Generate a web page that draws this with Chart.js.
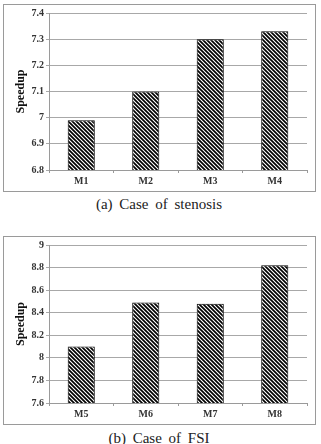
<!DOCTYPE html>
<html>
<head>
<meta charset="utf-8">
<script src="https://cdn.jsdelivr.net/npm/chart.js@4.4.0/dist/chart.umd.min.js"></script>
<style>
  body { margin: 0; background: #fff; width: 321px; height: 444px; overflow: hidden; position: relative; }
  .frame { position: absolute; left: 3px; width: 311px; border: 1px solid #9a9a9a; }
  .frame canvas { display: block; }
  .cap { position: absolute; left: 0; width: 318px; text-align: center; font-family: "Liberation Serif", serif; font-size: 15px; word-spacing: 3px; color: #222; }
</style>
</head>
<body>
<div class="frame" style="top:4px;height:186px"><canvas id="chartA" width="311" height="186"></canvas></div>
<div class="cap" style="top:196px">(a) Case of stenosis</div>
<div class="frame" style="top:236px;height:187px"><canvas id="chartB" width="311" height="187"></canvas></div>
<div class="cap" style="top:430px">(b) Case of FSI</div>
<script>
// stenosis case
const labelsA = ["M1", "M2", "M3", "M4"];
const speedupA = [6.99, 7.1, 7.3, 7.33];
const ticksA = [6.8, 6.9, 7, 7.1, 7.2, 7.3, 7.4];

// FSI case
const labelsB = ["M5", "M6", "M7", "M8"];
const speedupB = [8.1, 8.49, 8.48, 8.82];
const ticksB = [7.6, 7.8, 8, 8.2, 8.4, 8.6, 8.8, 9];

// hatch pattern, lines going top-left to bottom-right
function makeHatch() {
  const c = document.createElement("canvas");
  c.width = 4; c.height = 4;
  const g = c.getContext("2d");
  g.fillStyle = "#fff";
  g.fillRect(0, 0, 4, 4);
  g.strokeStyle = "#000";
  g.lineWidth = 1.7;
  g.beginPath();
  g.moveTo(-1, -1); g.lineTo(5, 5);
  g.moveTo(-1, 3); g.lineTo(1, 5);
  g.moveTo(3, -1); g.lineTo(5, 1);
  g.stroke();
  return g.createPattern(c, "repeat");
}

const serif = "'Liberation Serif', 'Times New Roman', serif";

function drawChart(id, labels, values, ticks, padTop) {
  const ctx = document.getElementById(id).getContext("2d");
  return new Chart(ctx, {
    type: "bar",
    data: {
      labels: labels,
      datasets: [{
        data: values,
        backgroundColor: makeHatch(),
        borderColor: "#000",
        borderWidth: 1,
        borderSkipped: "bottom",
        barPercentage: 0.42,
        categoryPercentage: 1
      }]
    },
    options: {
      responsive: false,
      animation: false,
      layout: { padding: { top: padTop, right: 8, bottom: 0, left: 0 } },
      plugins: { legend: { display: false }, tooltip: { enabled: false } },
      scales: {
        x: {
          afterFit: (s) => { s.height = 21; },
          grid: { offset: true, drawOnChartArea: false, drawTicks: true, tickLength: 3, color: "#9a9a9a" },
          border: { color: "#9a9a9a" },
          ticks: { color: "#333", padding: 2, font: { family: serif, size: 10, weight: "bold" } }
        },
        y: {
          min: ticks[0],
          max: ticks[ticks.length - 1],
          afterFit: (s) => { s.width = 45; },
          afterBuildTicks: (s) => { s.ticks = ticks.map((v) => ({ value: v })); },
          grid: { color: "#a8a8a8", tickLength: 3 },
          border: { color: "#9a9a9a" },
          ticks: {
            color: "#333",
            padding: 2,
            font: { family: serif, size: 10, weight: "bold" },
            callback: (v, i) => String(ticks[i])
          },
          title: {
            display: true,
            text: "Speedup",
            color: "#111",
            padding: { top: 10, bottom: 0 },
            font: { family: serif, size: 12, weight: "bold" }
          }
        }
      }
    }
  });
}

document.addEventListener("DOMContentLoaded", () => {
  drawChart("chartA", labelsA, speedupA, ticksA, 7);
  drawChart("chartB", labelsB, speedupB, ticksB, 8);
});
</script>
</body>
</html>
